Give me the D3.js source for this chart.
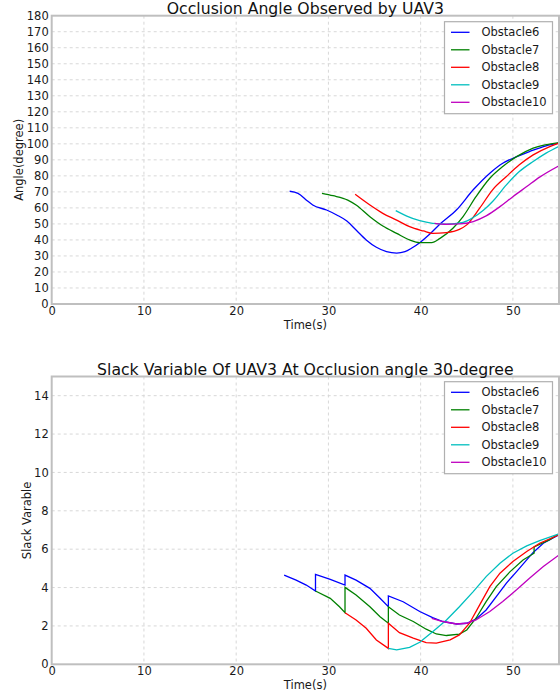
<!DOCTYPE html>
<html lang="en">
<head>
<meta charset="UTF-8">
<title>UAV3 occlusion</title>
<script src="https://d3js.org/d3.v7.min.js"></script>
<style>
    body { margin: 0; background: #fff; }
    svg { display: block; font-family: "DejaVu Sans", sans-serif; }
    .grid line { stroke: #d8d8d8; stroke-dasharray: 3,3; stroke-width: 1; }
    .frame { fill: none; stroke: #bfbfbf; stroke-width: 2; }
    .tick text { font-size: 11.5px; fill: #1a1a1a; }
</style>
</head>
<body>
<div id="chart"></div>
<script>
// ---- data ----
const obstacleNames = ['Obstacle6', 'Obstacle7', 'Obstacle8', 'Obstacle9', 'Obstacle10'];
const lineColors = ['#0000ff', '#008000', '#ff0000', '#00bfbf', '#bf00bf'];

const angleXTicks = [0, 10, 20, 30, 40, 50];
const angleYTicks = d3.range(0, 181, 10);
const slackYTicks = [0, 2, 4, 6, 8, 10, 12, 14];

// [time(s), angle(deg)]
const angleObs6 = [[25.8,70.4],[26.7,69.1],[27.7,64.5],[28.3,61.8],[29.8,58.7],[30.9,55.6],[32.0,51.8],[33.0,46.2],
    [34.1,40.0],[35.2,35.4],[36.3,32.7],[37.4,31.8],[38.3,32.7],[39.0,34.8],[39.9,38.3],[41.0,43.7],[42.1,49.9],
    [43.9,58.8],[45.7,71.3],[47.5,81.7],[48.9,87.9],[50.0,91.0],[51.8,95.2],[53.6,98.8],[55,100.5]];
const angleObs7 = [[29.3,69.1],[30.5,67.6],[32.1,64.9],[33.0,61.8],[34.5,54.5],[35.9,48.7],[37.4,44.1],[38.8,40.0],
    [39.9,38.3],[41.2,38.3],[42.1,41.0],[43.5,47.3],[44.6,54.6],[46.0,67.0],[47.5,78.5],[48.9,85.8],[50.4,92.0],
    [52.2,97.3],[55,100.8]];
const angleObs8 = [[32.9,68.5],[34.5,61.8],[35.9,56.6],[37.4,52.4],[38.8,48.3],[40.3,45.6],[41.3,44.1],[42.8,44.6],
    [44.2,46.6],[45.0,49.4],[46.4,59.8],[47.8,71.3],[49.3,79.6],[50.7,86.9],[52.2,93.1],[54.0,98.3],[55,100.5]];
const angleObs9 = [[37.3,58.3],[38.5,54.9],[39.9,52.0],[41.3,50.4],[42.8,49.9],[44.6,51.0],[45.7,54.0],[46.8,58.5],
    [47.8,64.0],[49.3,74.4],[50.7,82.7],[52.2,89.0],[53.6,94.2],[55,98.5]];
const angleObs10 = [[41.5,50.4],[42.8,49.8],[44.2,50.0],[45.7,51.5],[47.1,55.0],[48.6,60.8],[50.0,67.0],[51.5,73.3],
    [52.9,79.2],[55,86.3]];

// [time(s), slack] - repeated times are the jumps
const slackObs6 = [[25.2,4.65],[26.5,4.39],[27.6,4.13],[28.6,3.82],[28.6,4.69],[30.2,4.43],[31.8,4.13],[31.8,4.65],
    [33.0,4.39],[34.5,3.96],[35.6,3.44],[36.5,3.0],[36.5,3.56],[38.1,3.26],[39.9,2.75],[41.3,2.43],[42.4,2.23],
    [43.9,2.1],[45.0,2.14],[46.0,2.35],[47.1,2.83],[48.2,3.53],[49.3,4.23],[50.4,4.83],[51.5,5.44],[52.2,5.83],
    [53.3,6.31],[55,6.75]];
const slackObs7 = [[28.6,3.82],[30.2,3.44],[31.2,3.0],[31.8,2.69],[31.8,4.01],[33.0,3.61],[34.5,3.0],[35.6,2.48],
    [36.5,2.14],[36.5,3.0],[37.7,2.57],[39.2,2.23],[40.6,1.83],[41.7,1.58],[42.8,1.5],[44.2,1.57],[45.0,1.79],
    [46.0,2.4],[47.1,3.27],[48.2,4.05],[49.7,4.83],[51.1,5.44],[52.3,5.79],[52.3,6.12],[54.0,6.5],[55,6.8]];
const slackObs8 = [[31.8,2.69],[33.0,2.31],[34.1,1.88],[35.2,1.27],[36.5,0.83],[36.5,2.14],[37.7,1.65],[39.2,1.36],
    [40.6,1.13],[41.7,1.1],[43.2,1.27],[44.2,1.53],[45.3,2.14],[46.4,3.1],[47.5,4.05],[48.6,4.75],[50.0,5.36],
    [51.5,5.88],[52.9,6.31],[55,6.75]];
const slackObs9 = [[36.5,0.83],[37.4,0.75],[38.8,0.88],[39.9,1.15],[41.3,1.7],[42.8,2.31],[44.2,3.0],[45.7,3.79],
    [47.1,4.57],[48.6,5.27],[50.0,5.79],[51.5,6.17],[52.9,6.45],[55,6.8]];
const slackObs10 = [[41.2,2.4],[42.4,2.23],[43.9,2.1],[45.0,2.14],[46.0,2.31],[47.5,2.75],[48.9,3.27],[50.4,3.88],
    [51.8,4.49],[53.3,5.1],[55,5.7]];

// ---- drawing ----
const svg = d3.select('#chart').append('svg')
    .attr('width', 560)
    .attr('height', 696);

function drawPanel(opts) {
    const {left, right, top, bottom, yMax, yTicks, title, yLabel, yLabelX, series, curve, legendTop, id} = opts;

    const x = d3.scaleLinear().domain([0, 55]).range([left, right]);
    const y = d3.scaleLinear().domain([0, yMax]).range([bottom, top]);

    const g = svg.append('g');

    // grid
    const grid = g.append('g').attr('class', 'grid');
    grid.selectAll('.vx').data(angleXTicks.filter(d => d > 0)).join('line')
        .attr('x1', d => x(d)).attr('x2', d => x(d))
        .attr('y1', top).attr('y2', bottom);
    grid.selectAll('.hy').data(yTicks.filter(d => d > 0 && d < yMax)).join('line')
        .attr('x1', left).attr('x2', right)
        .attr('y1', d => y(d)).attr('y2', d => y(d));

    // lines
    g.append('clipPath').attr('id', id)
        .append('rect').attr('x', left).attr('y', top)
        .attr('width', right - left).attr('height', bottom - top);

    const line = d3.line().x(d => x(d[0])).y(d => y(d[1])).curve(curve);
    g.append('g').attr('clip-path', `url(#${id})`)
        .selectAll('path').data(series).join('path')
        .attr('d', d => line(d))
        .attr('fill', 'none')
        .attr('stroke', (d, i) => lineColors[i])
        .attr('stroke-width', 1.3);

    // frame
    g.append('rect').attr('class', 'frame')
        .attr('x', left).attr('y', top)
        .attr('width', right - left).attr('height', bottom - top);

    // axes
    const xAxis = g.append('g')
        .attr('transform', `translate(0,${bottom})`)
        .call(d3.axisBottom(x).tickValues(angleXTicks).tickSize(0).tickPadding(3));
    const yAxis = g.append('g')
        .attr('transform', `translate(${left},0)`)
        .call(d3.axisLeft(y).tickValues(yTicks).tickSize(0).tickPadding(3));
    [xAxis, yAxis].forEach(a => {
        a.select('.domain').remove();
        a.attr('font-family', null).attr('font-size', null);
    });

    // title + labels
    g.append('text')
        .attr('x', (left + right) / 2).attr('y', top - 1.5)
        .attr('text-anchor', 'middle')
        .attr('font-size', 15.7).attr('fill', '#111')
        .text(title);
    g.append('text')
        .attr('x', (left + right) / 2).attr('y', bottom + 25)
        .attr('text-anchor', 'middle')
        .attr('font-size', 11.5).attr('fill', '#1a1a1a')
        .text('Time(s)');
    g.append('text')
        .attr('transform', `translate(${yLabelX},${(top + bottom) / 2}) rotate(-90)`)
        .attr('text-anchor', 'middle')
        .attr('font-size', 11.5).attr('fill', '#1a1a1a')
        .text(yLabel);

    // legend
    const lg = g.append('g').attr('transform', `translate(444.5,${legendTop})`);
    lg.append('rect')
        .attr('width', 108).attr('height', 92)
        .attr('fill', '#fff').attr('stroke', '#b0b0b0').attr('stroke-width', 1.2);
    obstacleNames.forEach((name, i) => {
        const ry = 10.6 + i * 17.5;
        lg.append('line')
            .attr('x1', 6.5).attr('x2', 25).attr('y1', ry).attr('y2', ry)
            .attr('stroke', lineColors[i]).attr('stroke-width', 1.3);
        lg.append('text')
            .attr('x', 37).attr('y', ry + 4)
            .attr('font-size', 11.5).attr('fill', '#1a1a1a')
            .text(name);
    });
}

drawPanel({
    id: 'clipA', left: 51.7, right: 559, top: 15.7, bottom: 304,
    yMax: 180, yTicks: angleYTicks,
    title: 'Occlusion Angle Observed by UAV3', yLabel: 'Angle(degree)', yLabelX: 23,
    series: [angleObs6, angleObs7, angleObs8, angleObs9, angleObs10],
    curve: d3.curveMonotoneX, legendTop: 21.7
});

drawPanel({
    id: 'clipB', left: 51.7, right: 559, top: 376.5, bottom: 664.3,
    yMax: 15, yTicks: slackYTicks,
    title: 'Slack Variable Of UAV3 At Occlusion angle 30-degree', yLabel: 'Slack Varable', yLabelX: 31,
    series: [slackObs6, slackObs7, slackObs8, slackObs9, slackObs10],
    curve: d3.curveLinear, legendTop: 381.7
});
</script>
</body>
</html>
